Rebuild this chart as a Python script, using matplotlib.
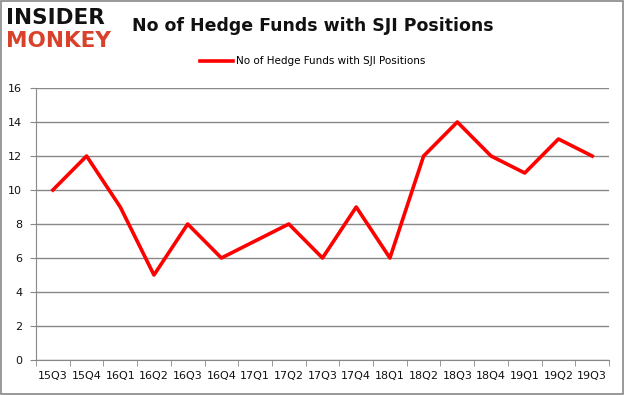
import matplotlib.pyplot as plt
from matplotlib.patches import Rectangle

# Quarters and number of hedge funds holding SJI
quarters = ['15Q3', '15Q4', '16Q1', '16Q2', '16Q3', '16Q4', '17Q1', '17Q2', '17Q3',
            '17Q4', '18Q1', '18Q2', '18Q3', '18Q4', '19Q1', '19Q2', '19Q3']
fund_counts = [10, 12, 9, 5, 8, 6, 7, 8, 6, 9, 6, 12, 14, 12, 11, 13, 12]
y_ticks = [0, 2, 4, 6, 8, 10, 12, 14, 16]

fig = plt.figure(figsize=(6.25, 3.95), dpi=100)
ax = fig.add_axes([0.0576, 0.0886, 0.9168, 0.6886])

# Gray frame around the whole picture
fig.patches.append(Rectangle((0.002, 0.003), 0.995, 0.994, transform=fig.transFigure,
                             fill=False, edgecolor='#888888', linewidth=1.2))

x = list(range(len(quarters)))
ax.plot(x, fund_counts, color='#ff0000', linewidth=2.6, label='No of Hedge Funds with SJI Positions')

ax.set_xlim(-0.5, len(quarters) - 0.5)
ax.set_ylim(0, 16)
ax.set_yticks(y_ticks)
ax.set_xticks(x)
ax.set_xticklabels(quarters, fontsize=8, color='#111111')
ax.tick_params(axis='x', length=0, pad=8)
ax.set_xticks([i - 0.5 for i in range(len(quarters) + 1)], minor=True)
ax.tick_params(axis='x', which='minor', length=4, color='#888888')
ax.tick_params(axis='y', length=4, color='#888888', labelsize=8, labelcolor='#111111', pad=6)

ax.grid(axis='y', color='#888888', linewidth=1)
ax.set_axisbelow(True)
for side in ['top', 'right']:
    ax.spines[side].set_visible(False)
ax.spines['left'].set_color('#888888')
ax.spines['bottom'].set_color('#888888')

# Title and legend
fig.text(0.5, 0.935, 'No of Hedge Funds with SJI Positions', ha='center', va='center',
         fontsize=12.5, fontweight='bold', color='#111111')
fig.legend(loc='center', bbox_to_anchor=(0.5, 0.845), frameon=False, fontsize=7.5,
           handlelength=3.2, handletextpad=0.2)

# Logo
fig.text(0.01, 0.955, 'INSIDER', ha='left', va='center', fontsize=15.5, fontweight='heavy',
         color='#111111', family='DejaVu Sans')
fig.text(0.01, 0.895, 'MONKEY', ha='left', va='center', fontsize=15.5, fontweight='heavy',
         color='#d9412b', family='DejaVu Sans')

fig.savefig('out.png', dpi=100)
